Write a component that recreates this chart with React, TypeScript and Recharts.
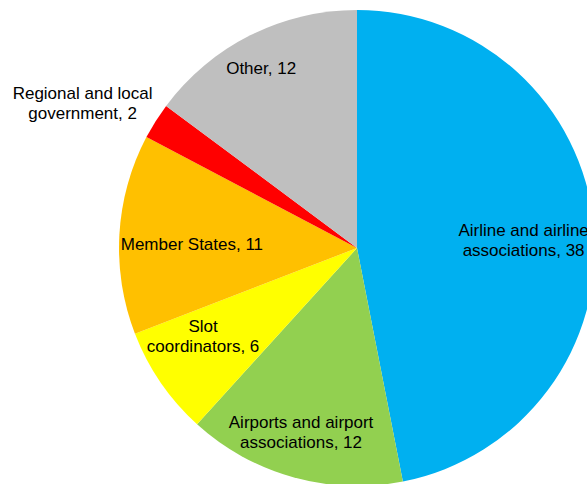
import { PieChart, Pie, Cell } from "recharts"

const categories = [
    "Airline and airline\nassociations",
    "Airports and airport\nassociations",
    "Slot\ncoordinators",
    "Member States",
    "Regional and local\ngovernment",
    "Other",
]
const counts = [38, 12, 6, 11, 2, 12]
const colors = ["#00B0F0", "#92D050", "#FFFF00", "#FFC000", "#FF0000", "#BFBFBF"]

// where each label sits: share of the outer radius, and a nudge (degrees, clockwise) off the slice middle
const labelRadius = [0.701, 0.806, 0.742, 0.694, 1.306, 0.859]
const labelTurn = [2.5, 1.4, 5.1, -1.6, -4.2, -1.3]

const data = categories.map((name, i) => ({ name, value: counts[i] }))

const RADIAN = Math.PI / 180
const LINE_HEIGHT = 20

function renderLabel(props: any) {
    const { cx, cy, midAngle, outerRadius, index, value } = props
    const r = outerRadius * labelRadius[index]
    const angle = (midAngle - labelTurn[index]) * RADIAN
    const x = cx + r * Math.cos(-angle)
    const y = cy + r * Math.sin(-angle) + 1
    const lines = `${categories[index]}, ${value}`.split("\n")
    const top = -((lines.length - 1) / 2) * LINE_HEIGHT
    return (
        <text
            x={x}
            y={y}
            textAnchor="middle"
            dominantBaseline="central"
            fill="#000"
            fontSize={17}
            fontFamily="'Liberation Sans', Arial, sans-serif"
        >
            {lines.map((line, i) => (
                <tspan key={i} x={x} y={y + top + i * LINE_HEIGHT}>
                    {line}
                </tspan>
            ))}
        </text>
    )
}

export default function App() {
    return (
        <div style={{ position: "fixed", left: 0, top: 0, width: 587, height: 484, overflow: "hidden", background: "#fff" }}>
            <PieChart width={587} height={484} margin={{ top: 0, right: 0, bottom: 0, left: 0 }}>
                <Pie
                    data={data}
                    dataKey="value"
                    nameKey="name"
                    cx={357}
                    cy={248}
                    outerRadius={238}
                    startAngle={90}
                    endAngle={-270}
                    stroke="none"
                    labelLine={false}
                    label={renderLabel}
                    isAnimationActive={false}
                >
                    {data.map((d, i) => (
                        <Cell key={d.name} fill={colors[i]} />
                    ))}
                </Pie>
            </PieChart>
        </div>
    )
}
